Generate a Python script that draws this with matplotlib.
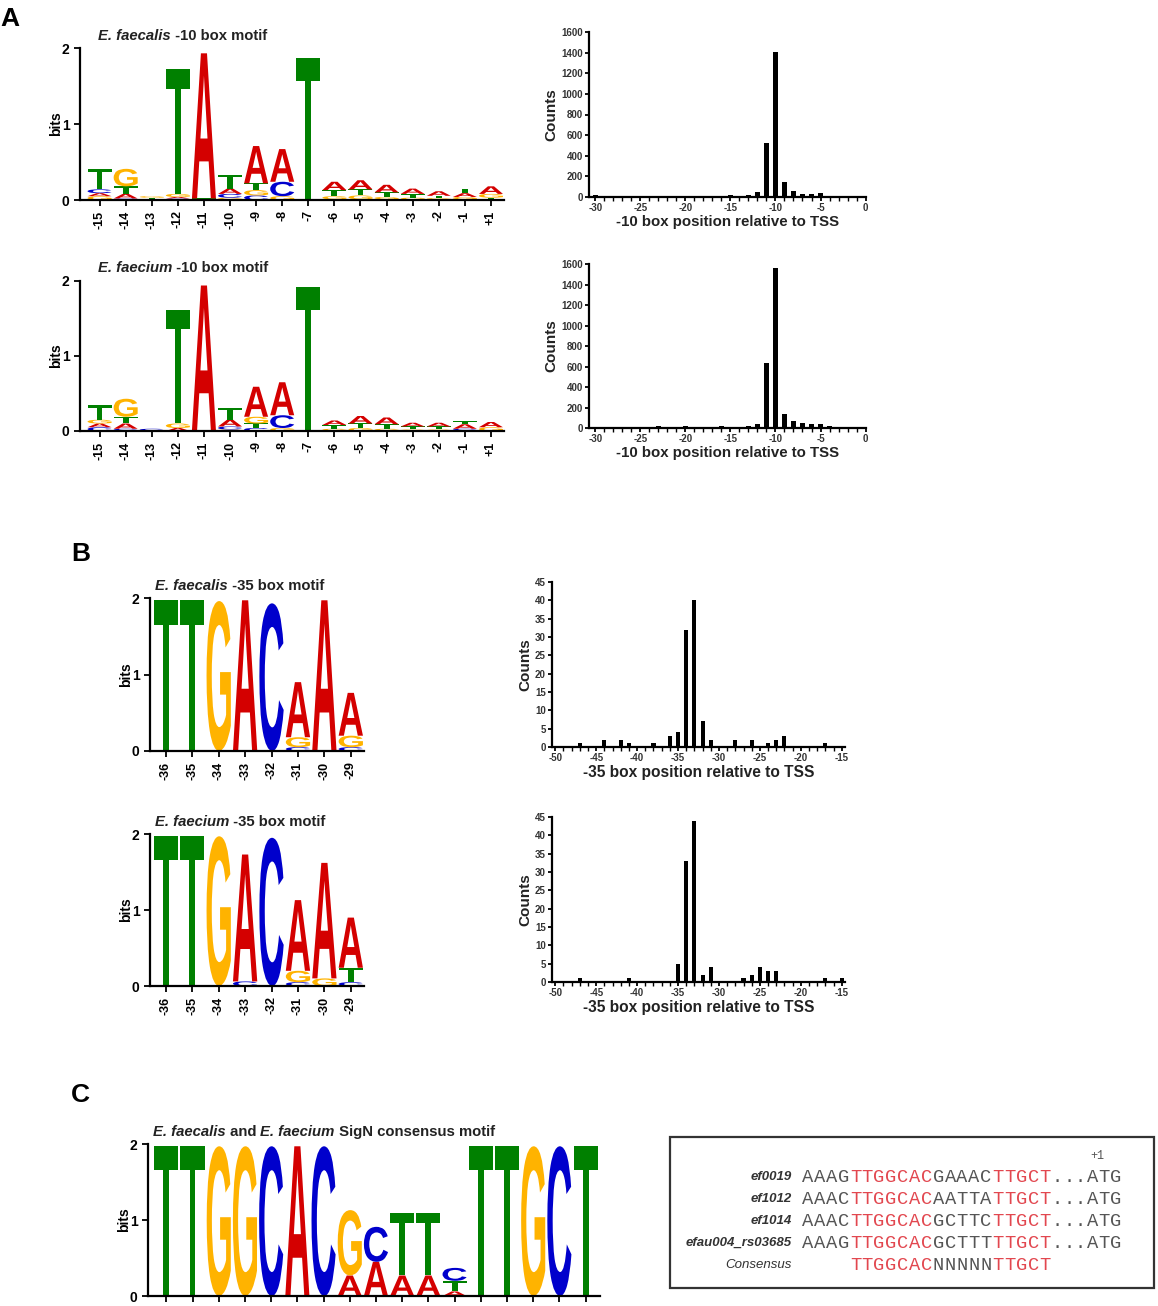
import matplotlib
matplotlib.use("Agg")
import matplotlib.pyplot as plt
import matplotlib.transforms as mtransforms
from matplotlib.textpath import TextPath
from matplotlib.patches import PathPatch, Rectangle
from matplotlib.font_manager import FontProperties

W, H = 1158, 1306
plt.rcParams['font.family'] = ['Liberation Sans', 'DejaVu Sans']
plt.rcParams['axes.unicode_minus'] = False

# ---------------- data ----------------
# sequence logos: letters bottom->top and their heights (bits)
ticks_10 = ['-15', '-14', '-13', '-12', '-11', '-10', '-9', '-8', '-7',
            '-6', '-5', '-4', '-3', '-2', '-1', '+1']
faecalis10_letters = ['GACT', 'CATG', 'CTG', 'CAGT', 'TA', 'GCAT', 'CGTA', 'GCA', 'T',
                      'CGTA', 'CGTA', 'CGTA', 'CGTA', 'CGTA', 'CGAT', 'CTGA']
faecalis10_heights = [[0.05, 0.04, 0.05, 0.27], [0.02, 0.06, 0.10, 0.23], [0.01, 0.02, 0.02],
                      [0.02, 0.02, 0.04, 1.65], [0.02, 1.91], [0.03, 0.05, 0.07, 0.18],
                      [0.06, 0.07, 0.09, 0.49], [0.05, 0.19, 0.43], [1.87],
                      [0.01, 0.04, 0.08, 0.11], [0.01, 0.05, 0.08, 0.12], [0.01, 0.03, 0.06, 0.10],
                      [0.01, 0.02, 0.05, 0.07], [0.005, 0.02, 0.03, 0.06], [0.01, 0.03, 0.05, 0.06],
                      [0.01, 0.02, 0.05, 0.10]]
faecium10_letters = ['CAGT', 'CATG', 'C', 'AGT', 'CA', 'GCAT', 'CTGA', 'GCA', 'T',
                     'GTA', 'GTA', 'GTA', 'GTA', 'GTA', 'CAT', 'GA']
faecium10_heights = [[0.05, 0.05, 0.05, 0.19], [0.03, 0.07, 0.09, 0.24], [0.03],
                     [0.04, 0.06, 1.51], [0.01, 1.93], [0.02, 0.04, 0.09, 0.15],
                     [0.04, 0.06, 0.09, 0.40], [0.04, 0.17, 0.44], [1.92],
                     [0.03, 0.05, 0.06], [0.04, 0.06, 0.10], [0.03, 0.06, 0.09],
                     [0.02, 0.04, 0.05], [0.02, 0.04, 0.05], [0.03, 0.06, 0.04], [0.05, 0.07]]

ticks_35 = ['-36', '-35', '-34', '-33', '-32', '-31', '-30', '-29']
faecalis35_letters = ['T', 'T', 'G', 'A', 'C', 'CGA', 'A', 'CGA']
faecalis35_heights = [[1.97], [1.97], [1.96], [1.97], [1.93], [0.05, 0.13, 0.72], [1.97], [0.05, 0.15, 0.56]]
faecium35_letters = ['T', 'T', 'G', 'CA', 'C', 'CGA', 'GA', 'CTA']
faecium35_heights = [[1.97], [1.97], [1.97], [0.06, 1.67], [1.95], [0.05, 0.15, 0.93], [0.10, 1.52], [0.05, 0.19, 0.66]]

sign_letters = ['T', 'T', 'G', 'G', 'C', 'A', 'C', 'AG', 'AC', 'AT', 'AT', 'ATC', 'T', 'T', 'G', 'C', 'T']
sign_heights = [[1.97], [1.97], [1.97], [1.97], [1.97], [1.97], [1.97], [0.27, 0.86], [0.45, 0.46],
                [0.27, 0.82], [0.27, 0.82], [0.06, 0.14, 0.17], [1.97], [1.97], [1.97], [1.97], [1.97]]

# histograms
faecalis10_pos = list(range(-30, -4))
faecalis10_counts = [15, 10, 10, 10, 10, 10, 10, 10, 10, 10, 12, 10, 10, 10, 12, 20, 12, 15,
                     45, 520, 1410, 150, 60, 30, 30, 35]
faecium10_pos = list(range(-28, -3))
faecium10_counts = [10, 10, 5, 5, 10, 15, 10, 10, 15, 10, 10, 10, 15, 10, 5, 15,
                    40, 630, 1560, 140, 65, 50, 40, 40, 15]
faecalis35_pos = [-47, -44, -42, -41, -38, -36, -35, -34, -33, -32, -31, -28, -26, -24, -23, -22, -17]
faecalis35_counts = [1, 2, 2, 1, 1, 3, 4, 32, 40, 7, 2, 2, 2, 1, 2, 3, 1]
faecium35_pos = [-47, -41, -35, -34, -33, -32, -31, -27, -26, -25, -24, -23, -17, -15]
faecium35_counts = [1, 1, 5, 33, 44, 2, 4, 1, 2, 4, 3, 3, 1, 1]

# alignment box
seq_names = ['ef0019', 'ef1012', 'ef1014', 'efau004_rs03685', 'Consensus']
seqs = ['AAAGTTGGCACGAAACTTGCT...ATG',
        'AAACTTGGCACAATTATTGCT...ATG',
        'AAACTTGGCACGCTTCTTGCT...ATG',
        'AAAGTTGGCACGCTTTTTGCT...ATG',
        '    TTGGCACNNNNNTTGCT']
red_cols = list(range(4, 11)) + list(range(16, 21))

# ---------------- helpers ----------------
LOGO_COLORS = {'A': '#d40000', 'C': '#0000cc', 'G': '#ffb300', 'T': '#008000'}
logo_fp = FontProperties(family='Liberation Sans', weight='bold')

fig = plt.figure(figsize=(W / 100, H / 100), dpi=100)


def add_ax(x0, x1, ytop, ybot):
    return fig.add_axes([x0 / W, 1 - ybot / H, (x1 - x0) / W, (ybot - ytop) / H])


def style_ax(ax):
    for s in ['top', 'right']:
        ax.spines[s].set_visible(False)
    for s in ['left', 'bottom']:
        ax.spines[s].set_linewidth(1.6)
    ax.tick_params(direction='out', width=1.3, length=4)


def letter(ax, ch, x, y0, w, h):
    tp = TextPath((0, 0), ch, size=1, prop=logo_fp)
    bb = tp.get_extents()
    tr = mtransforms.Affine2D().translate(-bb.x0, -bb.y0).scale(w / bb.width, h / bb.height) \
        .translate(x - w / 2, y0)
    ax.add_patch(PathPatch(tr.transform_path(tp), fc=LOGO_COLORS[ch], ec='none'))


def draw_logo(ax, letters, heights, ticklabels, xlim):
    for i, (let, hs) in enumerate(zip(letters, heights)):
        y = 0
        for ch, h in zip(let, hs):
            letter(ax, ch, i, y, 0.92, h)
            y += h
    style_ax(ax)
    ax.set_xlim(*xlim)
    ax.set_ylim(0, 2)
    ax.set_yticks([0, 1, 2])
    ax.set_yticklabels(['0', '1', '2'], fontsize=10, fontweight='bold')
    ax.set_xticks(range(len(letters)))
    if ticklabels:
        ax.set_xticklabels(ticklabels, rotation=90, fontsize=9, fontweight='bold')
    else:
        ax.set_xticklabels([])
    ax.set_ylabel('bits', fontsize=10, fontweight='bold', labelpad=-1)


def draw_hist(ax, pos, counts, xlim, ymax, ystep, xticks, xlabel, xlsize):
    ax.bar(pos, counts, width=0.5, color='black')
    style_ax(ax)
    ax.set_xlim(*xlim)
    ax.set_ylim(0, ymax)
    ax.set_yticks(range(0, ymax + 1, ystep))
    ax.set_xticks(xticks)
    ax.set_xticks(range(xticks[0], xticks[-1] + 1), minor=True)
    ax.tick_params(which='minor', direction='out', width=1.0, length=3)
    ax.tick_params(labelsize=7, labelcolor='#333333', length=3, pad=1.5)
    for t in ax.get_xticklabels() + ax.get_yticklabels():
        t.set_fontweight('bold')
    ax.set_xlabel(xlabel, fontsize=xlsize, fontweight='bold', color='#222222', labelpad=1)
    ax.set_ylabel('Counts', fontsize=11, fontweight='bold', color='#222222', labelpad=2)


def mixed_title(px, py, parts, size=10.7):
    r = fig.canvas.get_renderer()
    x = px / W
    for s, style in parts:
        t = fig.text(x, 1 - py / H, s, fontsize=size, fontweight='bold', fontstyle=style,
                     color='#222222', va='center', ha='left')
        x += t.get_window_extent(renderer=r).width / W


# ---------------- panel A ----------------
ax = add_ax(80, 504, 48, 200)
draw_logo(ax, faecalis10_letters, faecalis10_heights, ticks_10, (-0.75, 15.5))
mixed_title(98, 36, [('E. faecalis', 'italic'), (' -10 box motif', 'normal')])

ax = add_ax(80, 504, 281, 431)
draw_logo(ax, faecium10_letters, faecium10_heights, ticks_10, (-0.75, 15.5))
mixed_title(98, 268, [('E. faecium', 'italic'), (' -10 box motif', 'normal')])

ax = add_ax(589, 866, 32, 197)
draw_hist(ax, faecalis10_pos, faecalis10_counts, (-30.7, 0.05), 1600, 200,
          list(range(-30, 1, 5)), '-10 box position relative to TSS', 10.8)

ax = add_ax(589, 866, 264, 428)
draw_hist(ax, faecium10_pos, faecium10_counts, (-30.7, 0.05), 1600, 200,
          list(range(-30, 1, 5)), '-10 box position relative to TSS', 10.8)

# ---------------- panel B ----------------
ax = add_ax(150, 364, 598, 751)
draw_logo(ax, faecalis35_letters, faecalis35_heights, ticks_35, (-0.6, 7.5))
mixed_title(155, 586, [('E. faecalis', 'italic'), (' -35 box motif', 'normal')])

ax = add_ax(150, 364, 834, 986)
draw_logo(ax, faecium35_letters, faecium35_heights, ticks_35, (-0.6, 7.5))
mixed_title(155, 822, [('E. faecium', 'italic'), (' -35 box motif', 'normal')])

ax = add_ax(552, 845, 582, 747)
draw_hist(ax, faecalis35_pos, faecalis35_counts, (-50.4, -14.6), 45, 5,
          list(range(-50, -14, 5)), '-35 box position relative to TSS', 11.2)

ax = add_ax(552, 845, 817, 982)
draw_hist(ax, faecium35_pos, faecium35_counts, (-50.4, -14.6), 45, 5,
          list(range(-50, -14, 5)), '-35 box position relative to TSS', 11.2)

# ---------------- panel C ----------------
ax = add_ax(148, 600, 1144, 1296)
draw_logo(ax, sign_letters, sign_heights, None, (-0.7, 16.55))
mixed_title(153, 1132, [('E. faecalis', 'italic'), (' and ', 'normal'),
                        ('E. faecium', 'italic'), (' SigN consensus motif', 'normal')])

fig.patches.append(Rectangle((670 / W, 1 - 1288 / H), (1154 - 670) / W, (1288 - 1137) / H,
                             transform=fig.transFigure, fill=False, ec='#333333', lw=1.6))

row_y = [1177, 1199, 1221, 1243, 1265]
x_start, dx = 808, 11.85
for name, seq, y in zip(seq_names, seqs, row_y):
    fw = 'normal' if name == 'Consensus' else 'bold'
    fig.text(792 / W, 1 - y / H, name, fontsize=9.5, fontstyle='italic', fontweight=fw,
             color='#333333', ha='right', va='center')
    for i, ch in enumerate(seq):
        if ch == ' ':
            continue
        col = '#e2474f' if i in red_cols else '#555555'
        fig.text((x_start + i * dx) / W, 1 - y / H, ch, family='Liberation Mono', fontsize=13.5,
                 color=col, ha='center', va='center')
fig.text((x_start + 24.4 * dx) / W, 1 - 1156 / H, '+1', family='Liberation Mono', fontsize=8.5,
         color='#555555', ha='center', va='center')

# panel letters
for lab, px, py in [('A', 10, 19), ('B', 81, 554), ('C', 80, 1095)]:
    fig.text(px / W, 1 - py / H, lab, fontsize=19, fontweight='bold', ha='center', va='center')

fig.savefig('out.png', dpi=100)
